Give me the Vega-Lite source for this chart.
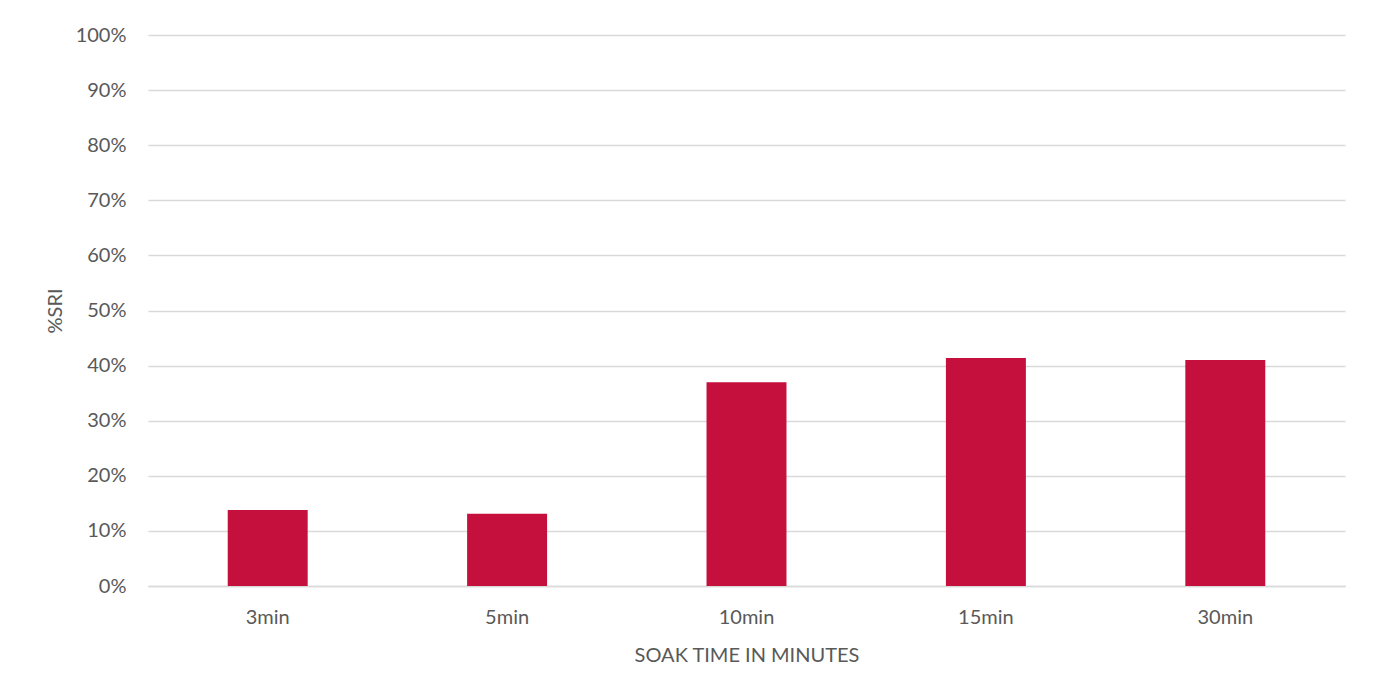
{
  "$schema": "https://vega.github.io/schema/vega-lite/v6.json",
  "width": 1197,
  "height": 551,
  "autosize": {"type": "none"},
  "padding": {"left": 148, "top": 35, "right": 34, "bottom": 107},
  "background": "white",
  "data": {
    "values": [
      {"time": "3min", "sri": 0.138},
      {"time": "5min", "sri": 0.131},
      {"time": "10min", "sri": 0.370},
      {"time": "15min", "sri": 0.414},
      {"time": "30min", "sri": 0.410}
    ]
  },
  "mark": {"type": "bar", "color": "#C50F3C"},
  "encoding": {
    "x": {
      "field": "time",
      "type": "nominal",
      "sort": null,
      "title": "SOAK TIME IN MINUTES",
      "scale": {"paddingInner": 0.666, "paddingOuter": 0.333},
      "axis": {
        "labelAngle": 0,
        "ticks": false,
        "domainColor": "#d9d9d9",
        "domainWidth": 1.5,
        "labelPadding": 21,
        "titlePadding": 18
      }
    },
    "y": {
      "field": "sri",
      "type": "quantitative",
      "title": "%SRI",
      "scale": {"domain": [0, 1], "nice": false},
      "axis": {
        "format": ".0%",
        "values": [0, 0.1, 0.2, 0.3, 0.4, 0.5, 0.6, 0.7, 0.8, 0.9, 1],
        "labelOverlap": false,
        "ticks": false,
        "domain": false,
        "gridColor": "#d9d9d9",
        "gridWidth": 1.5,
        "labelPadding": 22,
        "titlePadding": 10
      }
    }
  },
  "config": {
    "font": "Lato",
    "view": {"stroke": null},
    "axis": {
      "labelFont": "Lato",
      "labelFontSize": 20,
      "labelColor": "#595959",
      "titleFont": "Lato",
      "titleFontSize": 20,
      "titleFontWeight": "normal",
      "titleColor": "#595959"
    }
  }
}
